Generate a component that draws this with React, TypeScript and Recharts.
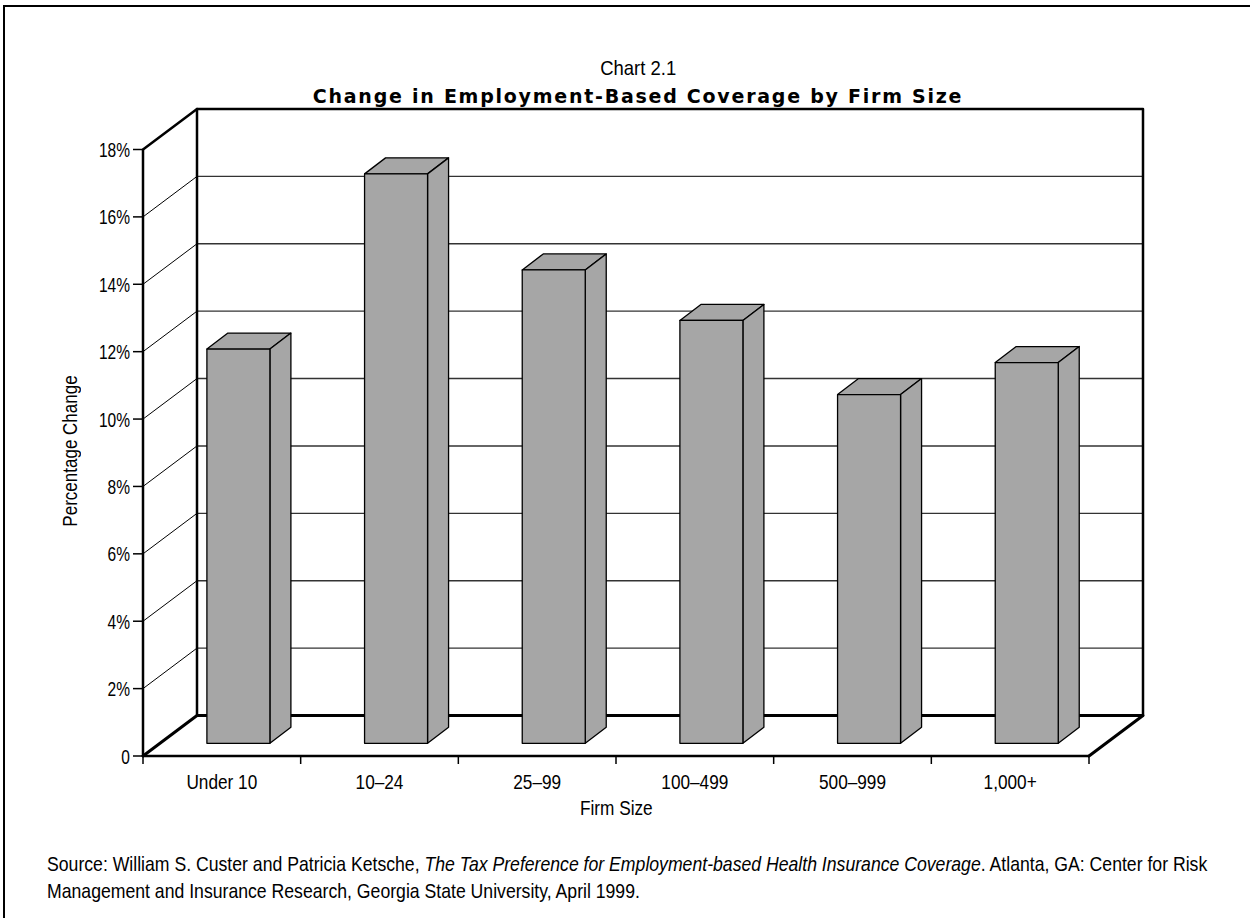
import React from 'react';
import { BarChart, Bar, XAxis, YAxis, CartesianGrid, ReferenceArea } from 'recharts';

const categories = ['Under 10', '10–24', '25–99', '100–499', '500–999', '1,000+'];
const changes = [11.7, 16.9, 14.05, 12.55, 10.35, 11.3];
const yTicks = [0, 2, 4, 6, 8, 10, 12, 14, 16, 18];

const data = categories.map((firm, i) => ({ firm, change: changes[i] }));

// no condensed face is installed, so Liberation Sans is squeezed horizontally instead
const NARROW = "'Liberation Sans', Arial, sans-serif";

// 3D box: how far the back wall sits from the front plane, and where the bars stand on the floor
const WALL_DX = 54;
const WALL_DY = 40.5;
const BAR_DX = 16.6;
const BAR_DY = 12.7;
const SIDE_DX = 21;
const SIDE_DY = 16;

const Bar3D = (props: any) => {
  const { x, y, width, height } = props;
  if (x == null || height == null) return null;
  const fx = x + BAR_DX;
  const fy = y - BAR_DY;
  const r = fx + width;
  return (
    <g stroke="#000" strokeWidth={1.3} strokeLinejoin="round" fill="#a6a6a6">
      <polygon points={`${fx},${fy} ${fx + SIDE_DX},${fy - SIDE_DY} ${r + SIDE_DX},${fy - SIDE_DY} ${r},${fy}`} />
      <polygon points={`${r},${fy} ${r + SIDE_DX},${fy - SIDE_DY} ${r + SIDE_DX},${fy + height - SIDE_DY} ${r},${fy + height}`} />
      <rect x={fx} y={fy} width={width} height={height} />
    </g>
  );
};

// each horizontal grid line becomes a diagonal on the left wall plus a line on the back wall
const BackGridLine = (props: any) => {
  const { x1, x2, y1, index } = props;
  return (
    <g key={`grid-${index}-${y1}`}>
      <line x1={x1} y1={y1} x2={x1 + WALL_DX} y2={y1 - WALL_DY} stroke="#000" strokeWidth={1} />
      <line x1={x1 + WALL_DX} y1={y1 - WALL_DY} x2={x2 + WALL_DX} y2={y1 - WALL_DY} stroke="#333" strokeWidth={1.4} />
    </g>
  );
};

const Walls = (props: any) => {
  const { x, y, width, height } = props;
  if (x == null) return null;
  const b = y + height;
  const r = x + width;
  return (
    <g fill="none" stroke="#000" strokeLinejoin="round" strokeLinecap="round">
      <path
        d={`M${x},${y} L${x + WALL_DX},${y - WALL_DY} L${r + WALL_DX},${y - WALL_DY} L${r + WALL_DX},${b - WALL_DY}`}
        strokeWidth={2.5}
      />
      <path d={`M${x + WALL_DX},${y - WALL_DY} L${x + WALL_DX},${b - WALL_DY}`} strokeWidth={2.5} />
      <path
        d={`M${x},${b} L${x + WALL_DX},${b - WALL_DY} L${r + WALL_DX},${b - WALL_DY} L${r},${b}`}
        strokeWidth={3}
      />
    </g>
  );
};

const FirmTick = (props: any) => {
  const { x, y, payload, index, visibleTicksCount } = props;
  const half = payload?.offset ?? 0;
  const last = index === visibleTicksCount - 1;
  return (
    <g>
      <line x1={x - half} y1={y} x2={x - half} y2={y + 8} stroke="#000" strokeWidth={1.5} />
      {last && <line x1={x + half} y1={y} x2={x + half} y2={y + 8} stroke="#000" strokeWidth={1.5} />}
      <text
        x={0}
        y={0}
        transform={`translate(${x},${y + 33}) scale(0.82,1)`}
        textAnchor="middle"
        fill="#000"
        fontSize={21}
        fontFamily={NARROW}
      >
        {payload.value}
      </text>
    </g>
  );
};

const PctTick = (props: any) => {
  const { x, y, payload } = props;
  const label = payload.value === 0 ? '0' : `${payload.value}%`;
  return (
    <text
      x={0}
      y={0}
      transform={`translate(${x},${y + 7.5}) scale(0.74,1)`}
      textAnchor="end"
      fill="#000"
      fontSize={21}
      fontFamily={NARROW}
    >
      {label}
    </text>
  );
};

const squeeze = (s: number, origin = 'center'): React.CSSProperties => ({
  display: 'inline-block',
  transform: `scaleX(${s})`,
  transformOrigin: origin,
  whiteSpace: 'nowrap',
});

export default function App() {
  return (
    <div style={{ position: 'absolute', left: 0, top: 0, width: 1250, height: 918, overflow: 'hidden', background: '#fff' }}>
      <div
        style={{ position: 'absolute', left: 3, top: 5, width: 1300, height: 1000, border: '2px solid #000', boxSizing: 'border-box' }}
      />
      <div style={{ position: 'absolute', left: 0, top: 0 }}>
        <BarChart
          width={1250}
          height={918}
          data={data}
          margin={{ top: 149.5, right: 161, bottom: 132, left: 83 }}
          barCategoryGap="30%"
        >
          <CartesianGrid vertical={false} horizontal={BackGridLine} />
          <ReferenceArea y1={0} y2={18} shape={Walls} fill="none" stroke="none" />
          <XAxis
            dataKey="firm"
            tickSize={0}
            tickMargin={0}
            tickLine={false}
            axisLine={{ stroke: '#000', strokeWidth: 2.5 }}
            tick={<FirmTick />}
            interval={0}
          />
          <YAxis
            domain={[0, 18]}
            ticks={yTicks}
            tickSize={10}
            tickMargin={3}
            tick={<PctTick />}
            tickLine={{ stroke: '#000', strokeWidth: 1.5 }}
            axisLine={{ stroke: '#000', strokeWidth: 2.5 }}
            width={60}
          />
          <Bar dataKey="change" shape={Bar3D} isAnimationActive={false} />
        </BarChart>
      </div>
      <div
        style={{ position: 'absolute', left: 0, width: 1276, top: 56, textAlign: 'center', fontFamily: NARROW, fontSize: 21, color: '#000', lineHeight: '24px' }}
      >
        <span style={squeeze(0.88)}>Chart 2.1</span>
      </div>
      <div
        style={{ position: 'absolute', left: 0, width: 1276, top: 84, textAlign: 'center', fontFamily: "'DejaVu Sans', sans-serif", fontWeight: 'bold', fontSize: 19, letterSpacing: 1.75, color: '#000', lineHeight: '24px' }}
      >
        Change in Employment-Based Coverage by Firm Size
      </div>
      <div
        style={{ position: 'absolute', left: 70, top: 451, transform: 'translate(-50%, -50%) rotate(-90deg)', whiteSpace: 'nowrap', fontFamily: NARROW, fontSize: 21, color: '#000' }}
      >
        <span style={squeeze(0.81)}>Percentage Change</span>
      </div>
      <div
        style={{ position: 'absolute', left: 0, width: 1232, top: 796, textAlign: 'center', fontFamily: NARROW, fontSize: 21, color: '#000', lineHeight: '24px' }}
      >
        <span style={squeeze(0.82)}>Firm Size</span>
      </div>
      <div
        style={{ position: 'absolute', left: 47, top: 850, fontFamily: NARROW, fontSize: 21, color: '#000', lineHeight: '27px' }}
      >
        <span style={squeeze(0.84, 'left')}>
          Source: William S. Custer and Patricia Ketsche, <i>The Tax Preference for Employment-based Health Insurance Coverage</i>. Atlanta, GA: Center for Risk
        </span>
        <br />
        <span style={squeeze(0.84, 'left')}>Management and Insurance Research, Georgia State University, April 1999.</span>
      </div>
    </div>
  );
}
